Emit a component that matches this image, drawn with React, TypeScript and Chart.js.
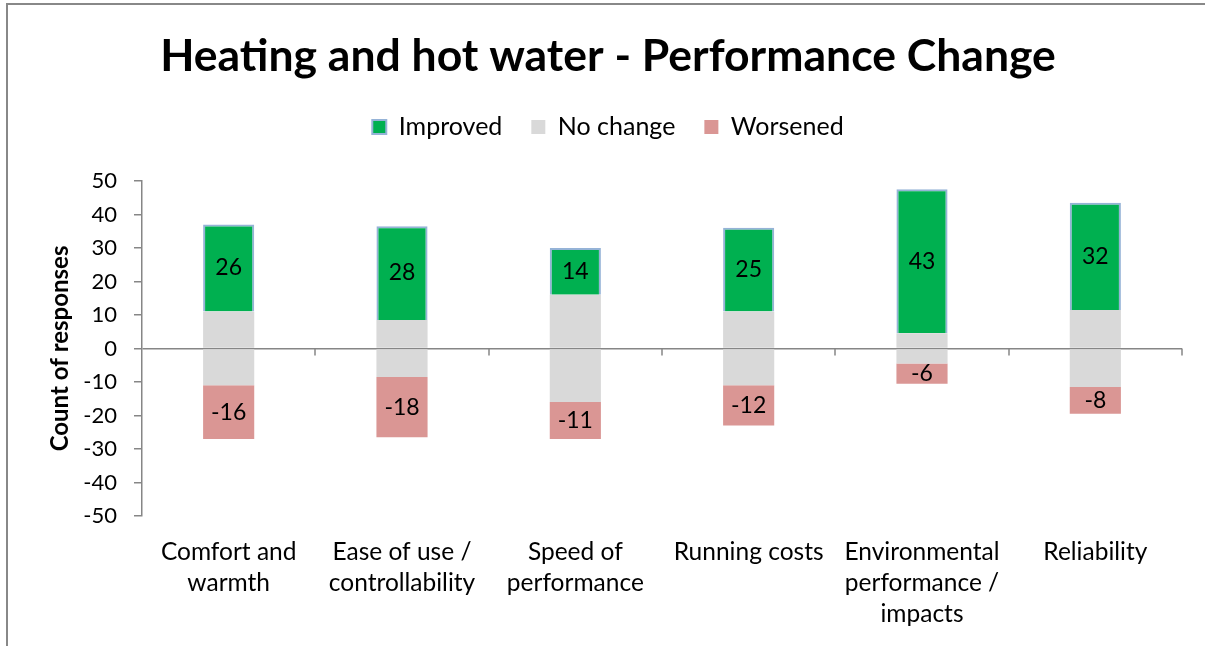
import React, { useEffect, useRef } from "react";
import { Chart, registerables } from "chart.js";

Chart.register(...registerables);

const categories: string[][] = [
  ["Comfort and", "warmth"],
  ["Ease of use /", "controllability"],
  ["Speed of", "performance"],
  ["Running costs"],
  ["Environmental", "performance /", "impacts"],
  ["Reliability"],
];
const improved = [26, 28, 14, 25, 43, 32];
const noChange = [22, 17, 32, 22, 9, 23];
const worsened = [-16, -18, -11, -12, -6, -8];

const FONT = "Lato";
const AXIS = "#868686";

const valueLabels = {
  id: "valueLabels",
  afterDatasetsDraw(chart: any) {
    const ctx = chart.ctx;
    ctx.save();
    ctx.font = `23px ${FONT}`;
    ctx.fillStyle = "#000";
    ctx.textAlign = "center";
    ctx.textBaseline = "middle";
    chart.data.datasets.forEach((ds: any, i: number) => {
      if (!ds.showValues) return;
      const meta = chart.getDatasetMeta(i);
      meta.data.forEach((el: any, j: number) => {
        const { x, y, base } = el.getProps(["x", "y", "base"], true);
        ctx.fillText(String(ds.data[j]), x, (y + base) / 2);
      });
    });
    ctx.restore();
  },
};

const zeroTicks = {
  id: "zeroTicks",
  afterDraw(chart: any) {
    const xs = chart.scales.x;
    const ys = chart.scales.y;
    const ctx = chart.ctx;
    const y0 = ys.getPixelForValue(0);
    ctx.save();
    ctx.strokeStyle = AXIS;
    ctx.lineWidth = 1.5;
    for (let i = 0; i < categories.length; i++) {
      const x = Math.round(xs.getPixelForValue(i + 0.5));
      ctx.beginPath();
      ctx.moveTo(x, y0);
      ctx.lineTo(x, y0 + 7);
      ctx.stroke();
    }
    ctx.restore();
  },
};

export default function App() {
  const ref = useRef<HTMLCanvasElement | null>(null);
  useEffect(() => {
    if (!ref.current) return;
    const half = noChange.map((v) => v / 2);
    const chart = new Chart(ref.current, {
      type: "bar",
      data: {
        labels: categories,
        datasets: [
          {
            label: "No change",
            data: half,
            backgroundColor: "#D9D9D9",
            borderWidth: 0,
          },
          {
            label: "Improved",
            data: improved,
            backgroundColor: "#00B050",
            borderColor: "#95B3D7",
            borderWidth: 2,
            showValues: true,
          } as any,
          {
            label: "No change (lower)",
            data: half.map((v) => -v),
            backgroundColor: "#D9D9D9",
            borderWidth: 0,
          },
          {
            label: "Worsened",
            data: worsened,
            backgroundColor: "#DA9694",
            borderWidth: 0,
            showValues: true,
          } as any,
        ],
      },
      options: {
        responsive: false,
        animation: false,
        events: [],
        layout: { padding: { top: 0, right: 23, bottom: 0, left: 34 } },
        datasets: {
          bar: { categoryPercentage: 1, barPercentage: 0.295, stack: "s" } as any,
        },
        plugins: {
          tooltip: { enabled: false },
          title: {
            display: true,
            text: "Heating and hot water - Performance Change",
            color: "#000",
            font: { family: FONT, size: 44.5, weight: "bold", lineHeight: 1.2 },
            padding: { top: 30, bottom: 2 },
          },
          legend: {
            display: true,
            position: "top",
            labels: {
              color: "#000",
              font: { family: FONT, size: 25 },
              boxWidth: 14,
              boxHeight: 14,
              padding: 29,
              filter: (item: any) => item.datasetIndex !== 2,
              sort: (a: any, b: any) => {
                const rank: Record<number, number> = { 1: 0, 0: 1, 3: 2 };
                return rank[a.datasetIndex] - rank[b.datasetIndex];
              },
            },
          },
        },
        scales: {
          x: {
            stacked: true,
            grid: { display: false, drawTicks: false },
            border: { display: false },
            ticks: {
              color: "#000",
              font: { family: FONT, size: 24.5, lineHeight: 1.28 },
              padding: 20,
              maxRotation: 0,
              autoSkip: false,
            },
            afterFit: (s: any) => {
              s.height = 130;
            },
          },
          spacer: {
            type: "category",
            position: "top",
            display: true,
            grid: { display: false, drawTicks: false },
            border: { display: false },
            ticks: { display: false },
            afterFit: (s: any) => {
              s.height = 31.5;
            },
          },
          y: {
            stacked: true,
            min: -50,
            max: 50,
            z: 1,
            ticks: {
              stepSize: 10,
              color: "#000",
              font: { family: FONT, size: 22 },
              padding: 17,
            },
            grid: {
              color: (c: any) => (c.tick && c.tick.value === 0 ? AXIS : "rgba(0,0,0,0)"),
              lineWidth: 1.5,
              tickColor: AXIS,
              tickLength: 8,
            },
            border: { display: true, color: AXIS, width: 1.5 },
            title: {
              display: true,
              text: "Count of responses",
              color: "#000",
              font: { family: FONT, size: 24, weight: "bold", lineHeight: 1.2 },
              padding: { top: 12, bottom: 0 },
            },
            afterFit: (s: any) => {
              s.width = 108;
            },
          },
        },
      } as any,
      plugins: [valueLabels, zeroTicks],
    });
    return () => chart.destroy();
  }, []);

  return (
    <div style={{ position: "absolute", left: 0, top: 0, width: 1205, height: 646, background: "#fff" }}>
      <div
        style={{
          position: "absolute",
          left: 6,
          top: 3,
          right: 0,
          bottom: 0,
          borderLeft: "2px solid #888",
          borderTop: "2px solid #888",
        }}
      />
      <canvas ref={ref} width={1205} height={646} style={{ position: "absolute", left: 0, top: 0 }} />
    </div>
  );
}
